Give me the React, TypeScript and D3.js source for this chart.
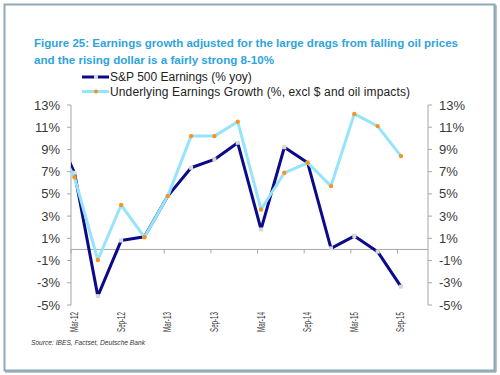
import React from "react";
import * as d3 from "d3";

// Quarter labels (index 0 = Mar-12). A leading Dec-11 point (index -1) is clipped at the left axis.
const quarters = ["Dec-11","Mar-12","Jun-12","Sep-12","Dec-12","Mar-13","Jun-13","Sep-13","Dec-13","Mar-14","Jun-14","Sep-14","Dec-14","Mar-15","Jun-15","Sep-15"];
const spEarnings = [11.5, 6.9, -4.2, 0.8, 1.15, 4.8, 7.35, 8.1, 9.6, 1.8, 9.2, 7.8, 0.1, 1.2, -0.2, -3.35];
const underlying = [10.5, 6.5, -0.95, 4.0, 1.1, 4.8, 10.2, 10.2, 11.5, 3.6, 6.9, 7.8, 5.7, 12.2, 11.1, 8.4];
const xTickLabels = ["Mar-12","Sep-12","Mar-13","Sep-13","Mar-14","Sep-14","Mar-15","Sep-15"];
const yTicks = [-5, -3, -1, 1, 3, 5, 7, 9, 11, 13];
const titleLines = [
  "Figure 25: Earnings growth adjusted for the large drags from falling oil prices",
  "and the rising dollar is a fairly strong 8-10%",
];
const legendLabels = ["S&P 500 Earnings (% yoy)", "Underlying Earnings Growth (%, excl $ and oil impacts)"];
const sourceText = "Source: IBES, Factset, Deutsche Bank";

const NAVY = "#0b0b8a";
const LIGHT = "#96e4fb";
const ORANGE = "#f7931e";
const GRAY_MK = "#d8d8d8";
const AXIS = "#a6a6a6";
const TEXT = "#3a3a3a";
const FONT = "'Liberation Sans', Arial, sans-serif";

export default function App() {
  const left = 71, right = 428, top = 105, bottom = 305;
  // index: 0 = Mar-12
  const x = d3.scaleLinear().domain([-0.15, 15.16]).range([left, right]);
  const y = d3.scaleLinear().domain([-5, 13]).range([bottom, top]);
  const idx = quarters.map((_, i) => i - 1);

  const line = d3.line<number>().x((_, i) => x(idx[i])).y((d) => y(d));

  const tickIdx = xTickLabels.map((l) => quarters.indexOf(l) - 1);

  return (
    <svg width={500} height={375} style={{ position: "absolute", left: 0, top: 0, background: "#fff" }}
      fontFamily={FONT}>
      <rect x={0} y={0} width={500} height={375} fill="#fff" />
      {/* frame */}
      <rect x={4.5} y={4.5} width={490} height={366} fill="none" stroke="#8fa9b4" strokeWidth={2} />
      <line x1={496} y1={5} x2={496} y2={372} stroke="#6f8e9b" strokeWidth={1} />
      <line x1={5} y1={372} x2={496} y2={372} stroke="#6f8e9b" strokeWidth={1} />

      {/* title */}
      <text x={34} y={47} fontSize={10.5} fontWeight="bold" fill="#2ea3de" textLength={424} lengthAdjust="spacingAndGlyphs">{titleLines[0]}</text>
      <text x={34} y={64} fontSize={10.5} fontWeight="bold" fill="#2ea3de" textLength={240} lengthAdjust="spacingAndGlyphs">{titleLines[1]}</text>

      {/* legend */}
      <g>
        <line x1={82} y1={77} x2={109} y2={77} stroke={NAVY} strokeWidth={3} />
        <rect x={94} y={75} width={4} height={4} fill={GRAY_MK} />
        <text x={110} y={81} fontSize={12} fill="#222">{legendLabels[0]}</text>
        <line x1={82} y1={91.5} x2={109} y2={91.5} stroke={LIGHT} strokeWidth={3} />
        <circle cx={96} cy={91.5} r={2} fill={ORANGE} />
        <text x={110} y={96} fontSize={12} fill="#222" textLength={300} lengthAdjust="spacing">{legendLabels[1]}</text>
      </g>

      {/* axes */}
      <line x1={left} y1={top} x2={left} y2={bottom} stroke={AXIS} />
      <line x1={right} y1={top} x2={right} y2={bottom} stroke={AXIS} />
      <line x1={left} y1={y(0)} x2={right} y2={y(0)} stroke={AXIS} />
      {yTicks.map((t) => (
        <g key={t}>
          <line x1={left - 4} x2={left} y1={y(t)} y2={y(t)} stroke={AXIS} />
          <line x1={right} x2={right + 4} y1={y(t)} y2={y(t)} stroke={AXIS} />
          <text x={60} y={y(t) + 4.5} fontSize={13} fill={TEXT} textAnchor="end">{t}%</text>
          <text x={439} y={y(t) + 4.5} fontSize={13} fill={TEXT} textAnchor="start">{t}%</text>
        </g>
      ))}
      {tickIdx.map((i, k) => (
        <g key={k}>
          <line x1={x(i) - 3.5} x2={x(i) - 3.5} y1={y(0)} y2={y(0) + 4} stroke={AXIS} />
          <text transform={`translate(${x(i) + 3.5},312) rotate(-90)`} fontSize={10} fill={TEXT}
            textAnchor="end" textLength={20} lengthAdjust="spacingAndGlyphs">{xTickLabels[k]}</text>
        </g>
      ))}

      <defs>
        <clipPath id="plotClip">
          <rect x={left} y={top - 10} width={right - left} height={bottom - top + 20} />
        </clipPath>
      </defs>
      <g clipPath="url(#plotClip)">
        <path d={line(spEarnings) || ""} fill="none" stroke={NAVY} strokeWidth={3} strokeLinejoin="round" />
        {spEarnings.map((v, i) => (
          <rect key={i} x={x(idx[i]) - 2} y={y(v) - 2} width={4} height={4} fill={GRAY_MK} />
        ))}
        <path d={line(underlying) || ""} fill="none" stroke={LIGHT} strokeWidth={3} strokeLinejoin="round" />
        {underlying.map((v, i) => (
          <circle key={i} cx={x(idx[i])} cy={y(v)} r={2.2} fill={ORANGE} />
        ))}
      </g>

      <text x={31} y={345} fontSize={7.5} fontStyle="italic" fill="#333" textLength={114} lengthAdjust="spacingAndGlyphs">{sourceText}</text>
    </svg>
  );
}
